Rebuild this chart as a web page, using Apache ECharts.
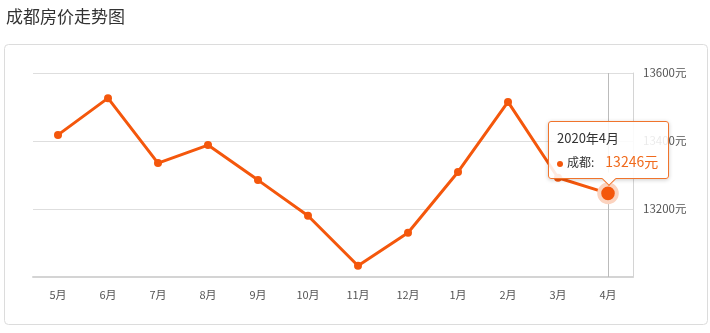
<!DOCTYPE html>
<html>
<head>
<meta charset="utf-8">
<script src="https://cdn.jsdelivr.net/npm/echarts@6/dist/echarts.min.js"></script>
<style>
    html, body { margin: 0; padding: 0; background: #fff; }
    #main { width: 710px; height: 333px; }
</style>
</head>
<body>
<div id="main"></div>
<script>
// 月份 (横轴)
var months = ['5月', '6月', '7月', '8月', '9月', '10月', '11月', '12月', '1月', '2月', '3月', '4月'];
// tooltip 上显示的完整日期
var fullDates = ['2019年5月', '2019年6月', '2019年7月', '2019年8月', '2019年9月', '2019年10月',
    '2019年11月', '2019年12月', '2020年1月', '2020年2月', '2020年3月', '2020年4月'];
// 成都房价 (元)
var prices = [13418, 13526, 13335, 13388, 13285, 13180, 13033, 13130, 13309, 13515, 13292, 13246];
// 纵轴刻度
var yMin = 13000, yMax = 13600, yStep = 200;
var activeIndex = 11; // 当前显示 tooltip 的点

var mainColor = '#f4570c';
var chart = echarts.init(document.getElementById('main'));

var seriesData = prices.map(function(v, i) {
    if (i !== activeIndex) return v;
    return {
        value: v,
        symbolSize: 16,
        itemStyle: {
            color: mainColor,
            borderColor: '#fbd3bf',
            borderWidth: 4
        }
    };
});

var option = {
    animation: false,
    textStyle: { fontFamily: '"Noto Sans CJK SC", "Noto Sans", sans-serif' },
    title: {
        text: '成都房价走势图',
        left: 1,
        top: 3,
        textStyle: { fontSize: 17, fontWeight: 'normal', color: '#333' }
    },
    graphic: [{
        type: 'rect',
        left: 4,
        top: 44,
        shape: { width: 703, height: 280, r: 4 },
        style: { fill: '#fff', stroke: '#dcdcdc', lineWidth: 1 },
        z: -10
    }],
    grid: {
        left: 33,
        right: 77,
        top: 73,
        bottom: 56
    },
    tooltip: {
        trigger: 'axis',
        alwaysShowContent: true,
        backgroundColor: 'rgba(255,255,255,0.88)',
        borderColor: '#f0742c',
        borderWidth: 1,
        padding: [7, 10, 7, 8],
        extraCssText: 'box-shadow:0 1px 4px rgba(0,0,0,0.2);border-radius:3px;overflow:visible;',
        axisPointer: {
            type: 'line',
            z: 1,
            lineStyle: { color: '#bbb', width: 1, type: 'solid' }
        },
        position: function(point, params, dom, rect, size) {
            return [point[0] - size.contentSize[0] / 2, point[1] - size.contentSize[1] - 14];
        },
        formatter: function(params) {
            var p = params[0];
            var html = '<div style="font-size:13px;color:#333;line-height:18px;">' + fullDates[p.dataIndex] + '</div>';
            html += '<div style="font-size:12px;color:#333;line-height:18px;margin-top:5px;">' +
                '<span style="display:inline-block;width:6px;height:6px;border-radius:3px;background:' + mainColor + ';margin-right:4px;vertical-align:middle;"></span>' +
                '成都:<span style="color:#f06a1c;font-size:14px;margin-left:11px;">' + p.value + '元</span></div>';
            // 下方小箭头
            html += '<div style="position:absolute;left:50%;bottom:-6px;width:9px;height:9px;margin-left:-5px;background:#fff;' +
                'border-right:1px solid #f0742c;border-bottom:1px solid #f0742c;transform:rotate(45deg);"></div>';
            return html;
        }
    },
    xAxis: {
        type: 'category',
        data: months,
        boundaryGap: true,
        axisLine: { lineStyle: { color: '#d4d4d4', width: 2 } },
        axisTick: { alignWithLabel: true, length: 4, lineStyle: { color: '#ccc' } },
        axisLabel: { color: '#555', fontSize: 11, margin: 12 }
    },
    yAxis: {
        type: 'value',
        position: 'right',
        min: yMin,
        max: yMax,
        interval: yStep,
        axisLine: { show: true, lineStyle: { color: '#d4d4d4', width: 1 } },
        axisTick: { show: false },
        splitLine: { lineStyle: { color: '#dedede' } },
        axisLabel: {
            color: '#555',
            fontSize: 11.5,
            margin: 10,
            showMinLabel: false,
            formatter: function(v) { return v + '元'; }
        }
    },
    series: [{
        name: '成都',
        type: 'line',
        z: 5,
        data: seriesData,
        symbol: 'circle',
        symbolSize: 8,
        lineStyle: { color: mainColor, width: 3 },
        itemStyle: { color: mainColor },
        emphasis: { disabled: true }
    }]
};

chart.setOption(option);
chart.dispatchAction({ type: 'showTip', seriesIndex: 0, dataIndex: activeIndex });
</script>
</body>
</html>
